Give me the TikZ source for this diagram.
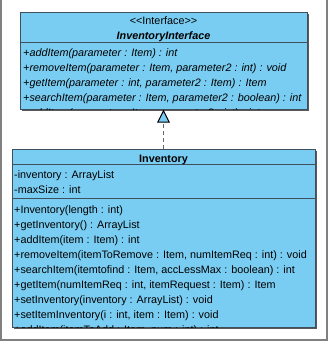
\documentclass[tikz,border=0pt]{standalone}
\usepackage{fontspec}
\setmainfont{Liberation Sans}
\usetikzlibrary{arrows.meta,positioning,shadows}

\definecolor{umlblue}{RGB}{122,205,242}
\definecolor{umledge}{RGB}{62,80,94}
\definecolor{framegray}{RGB}{128,128,128}

\tikzset{
  classbox/.style={draw=umledge, fill=umlblue, line width=1pt, inner sep=0pt,
    drop shadow={shadow xshift=1.5pt, shadow yshift=-1.5pt, fill=black!65, opacity=1}},
  member/.style={anchor=base west, inner sep=0pt, font=\fontsize{10.8pt}{12pt}\selectfont},
  title/.style={anchor=base, inner sep=0pt, font=\fontsize{10.8pt}{12pt}\selectfont},
  realize/.style={draw=black!60, line width=1.6pt, dash pattern=on 4pt off 3pt,
    -{Triangle[width=12.6pt, length=13pt, fill=umlblue, color=black, line width=1pt]}},
}

\begin{document}
\begin{tikzpicture}[x=1pt, y=-1pt]
	\useasboundingbox (0,0) rectangle (329,341);

	%% outer frame (top edge is cut off)
	\draw[framegray, line width=2pt] (1,0) -- (1,339.5) -- (327,339.5) -- (327,0);

	%% the two class boxes
	\node[classbox, minimum width=287pt, minimum height=97pt] (iface) at (163.5,60.5) {};
	\node[classbox, minimum width=303pt, minimum height=178pt] (inv) at (163.5,238) {};

	% compartment lines
	\draw[umledge, line width=1pt] (iface.west |- 0,42) -- (iface.east |- 0,42);
	\draw[umledge, line width=1pt] (inv.west |- 0,164.5) -- (inv.east |- 0,164.5);
	\draw[umledge, line width=1pt] (inv.west |- 0,198.5) -- (inv.east |- 0,198.5);

	%% interface: header and operations
	\node[title] (stereo) at (163.5,24) {{<}{<}Interface{>}{>}};
	\node[title, font=\fontsize{10.8pt}{12pt}\selectfont\bfseries\itshape] (iname) at (163.5,39) {InventoryInterface};
	\begin{scope}
		\clip (iface.south west) rectangle (iface.north east);
		\foreach \op [count=\i] in {
			{+addItem(parameter : Item) : int},
			{+removeItem(parameter : Item, parameter2 : int) : void},
			{+getItem(parameter : int, parameter2 : Item) : Item},
			{+searchItem(parameter : Item, parameter2 : boolean) : int},
			{+addItem(parameter : Item, parameter2 : int) : int}}
			\node[member, font=\fontsize{10.8pt}{12pt}\selectfont\itshape] (iop\i) at (23,41.5+15*\i) {\op};
	\end{scope}

	%% class: header, attributes and operations
	\node[title, font=\fontsize{10.8pt}{12pt}\selectfont\bfseries] (cname) at (163.5,162) {Inventory};
	\node[member] (attr1) at (14,178.5) {-inventory : ArrayList};
	\node[member] (attr2) at (14,193) {-maxSize : int};
	\begin{scope}
		\clip (inv.south west) rectangle (inv.north east);
		\foreach \op [count=\i] in {
			{+Inventory(length : int)},
			{+getInventory() : ArrayList},
			{+addItem(item : Item) : int},
			{+removeItem(itemToRemove : Item, numItemReq : int) : void},
			{+searchItem(itemtofind : Item, accLessMax : boolean) : int},
			{+getItem(numItemReq : int, itemRequest : Item) : Item},
			{+setInventory(inventory : ArrayList) : void},
			{+setItemInventory(i : int, item : Item) : void},
			{+addItem(itemToAdd : Item, num : int) : int}}
			\node[member] (op\i) at (14,198.5+15*\i) {\op};
	\end{scope}

	%% realization
	\draw[realize] (inv.north) -- (iface.south);
\end{tikzpicture}
\end{document}
